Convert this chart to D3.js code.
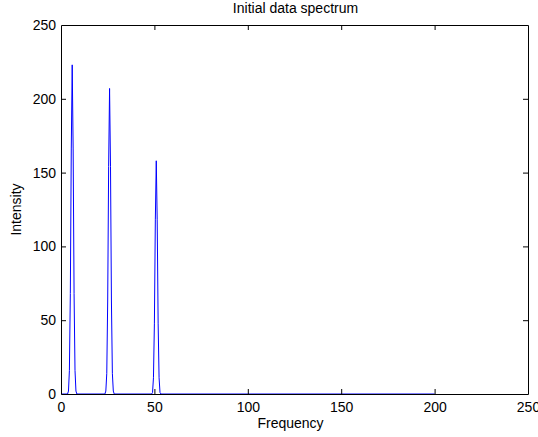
<!DOCTYPE html>
<html>
<head>
<meta charset="utf-8">
<script src="https://cdn.jsdelivr.net/npm/d3@7"></script>
<style>
  html, body { margin: 0; padding: 0; background: #fff; }
  svg { display: block; font-family: "Liberation Sans", Arial, Helvetica, sans-serif; }
</style>
</head>
<body>
<svg id="chart" width="538" height="437"></svg>
<script>
// ---- data ----
const frequency = [0,
  3.5, 4, 4.5, 5, 5.5, 6, 6.5, 7, 7.5, 8, 8.5,
  23.5, 24, 24.5, 25, 25.5, 26, 26.5, 27, 27.5, 28, 28.5,
  48.5, 49, 49.5, 50, 50.5, 51, 51.5, 52, 52.5, 53, 53.5,
  200];
const intensity = [0,
  0, 2, 16, 68, 166, 223, 166, 68, 16, 2, 0,
  0, 2, 14, 63, 154, 207, 154, 63, 14, 2, 0,
  0, 1, 11, 48, 118, 158, 118, 48, 11, 1, 0,
  0];
const xTicks = [0, 50, 100, 150, 200, 250];
const yTicks = [0, 50, 100, 150, 200, 250];
const titleText = "Initial data spectrum";
const xLabel = "Frequency";
const yLabel = "Intensity";

// ---- layout ----
const svg = d3.select("#chart");
const mLeft = 61, mRight = 528, mTop = 25, mBottom = 394;
const x = d3.scaleLinear().domain([0, 250]).range([mLeft, mRight]);
const y = d3.scaleLinear().domain([0, 250]).range([mBottom, mTop]);
const tickLen = 5;

// data line
const pts = frequency.map((f, i) => [f, intensity[i]]);
svg.append("path")
  .datum(pts)
  .attr("fill", "none")
  .attr("stroke", "#0000ff")
  .attr("stroke-width", 1)
  .attr("d", d3.line().x(d => x(d[0])).y(d => y(d[1])));

// axes (box with inward ticks on all sides)
const fontSize = 14;
const gB = svg.append("g").attr("transform", `translate(0,${mBottom})`)
  .call(d3.axisBottom(x).tickValues(xTicks).tickSizeInner(-tickLen).tickSizeOuter(0).tickPadding(8));
const gT = svg.append("g").attr("transform", `translate(0,${mTop})`)
  .call(d3.axisTop(x).tickValues(xTicks).tickSizeInner(-tickLen).tickSizeOuter(0).tickFormat(""));
const gL = svg.append("g").attr("transform", `translate(${mLeft},0)`)
  .call(d3.axisLeft(y).tickValues(yTicks).tickSizeInner(-tickLen).tickSizeOuter(0).tickPadding(5));
const gR = svg.append("g").attr("transform", `translate(${mRight},0)`)
  .call(d3.axisRight(y).tickValues(yTicks).tickSizeInner(-tickLen).tickSizeOuter(0).tickFormat(""));

[gB, gT, gL, gR].forEach(g => {
  g.selectAll(".domain").attr("stroke", "#000").attr("stroke-width", 1);
  g.selectAll(".tick line").attr("stroke", "#000");
  g.selectAll("text").attr("fill", "#000").style("font-size", fontSize + "px")
    .style("font-family", "'Liberation Sans', Arial, sans-serif");
});
gB.selectAll(".tick text").attr("dy", null).attr("y", 18);
[gB, gT, gL, gR].forEach(g => g.selectAll(".tick line").filter(d => d === 0 || d === 250).remove());

// title and labels
svg.append("text")
  .attr("x", (mLeft + mRight) / 2 + 1).attr("y", 13)
  .attr("text-anchor", "middle")
  .style("font-size", "14px")
  .text(titleText);
svg.append("text")
  .attr("x", (mLeft + mRight) / 2 - 4).attr("y", 428)
  .attr("text-anchor", "middle")
  .style("font-size", fontSize + "px")
  .text(xLabel);
svg.append("text")
  .attr("transform", `translate(21,${(mTop + mBottom) / 2}) rotate(-90)`)
  .attr("text-anchor", "middle")
  .style("font-size", fontSize + "px")
  .text(yLabel);
</script>
</body>
</html>
